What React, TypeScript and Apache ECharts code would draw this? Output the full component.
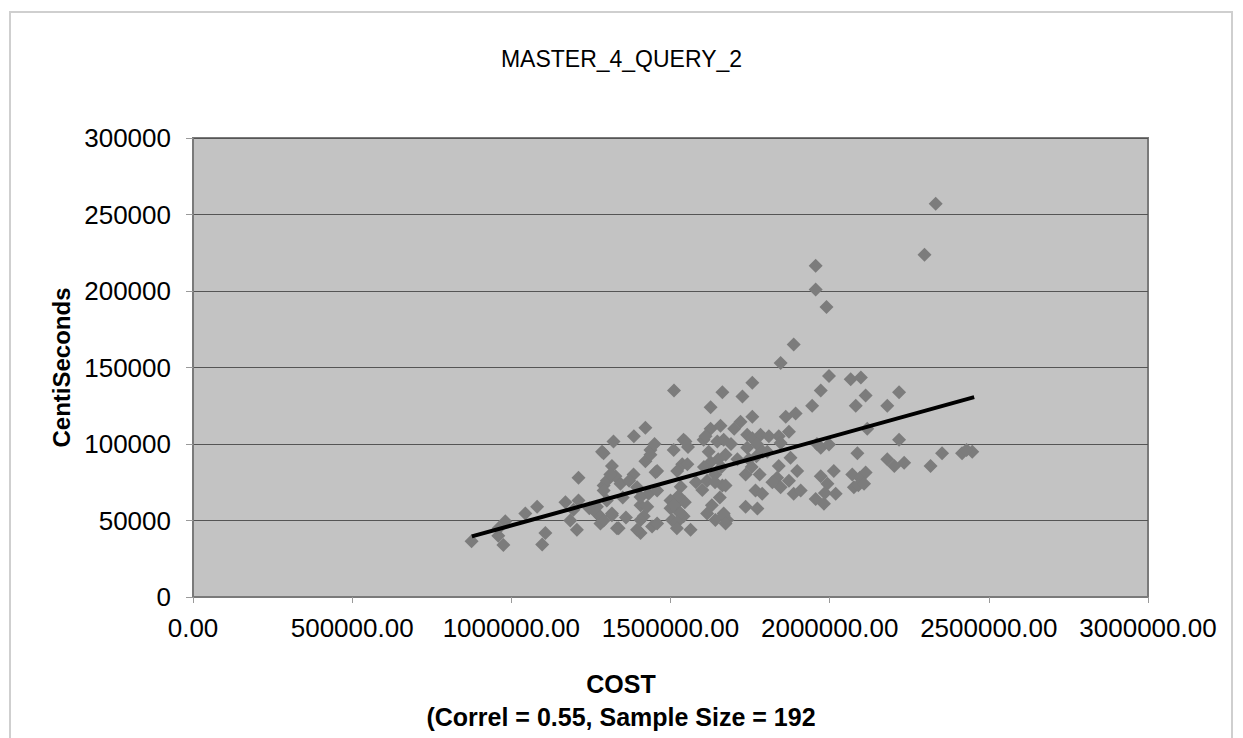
import React, { useEffect, useRef } from "react";
import * as echarts from "echarts";

const chartTitle = "MASTER_4_QUERY_2";
const xAxisTitleLine1 = "COST";
const xAxisTitleLine2 = "(Correl = 0.55, Sample Size = 192";
const yAxisTitle = "CentiSeconds";

// COST values (x)
const costValues: number[] = [
  875000, 959000, 975000, 981000, 960000, 1044000, 1081000, 1107000, 1097000, 1170000,
  1211000, 1185000, 1206000, 1211000, 1195000, 1269000, 1280000, 1290000, 1316000, 1332000,
  1285000, 1321000, 1316000, 1327000, 1343000, 1290000, 1300000, 1290000, 1300000, 1269000,
  1311000, 1280000, 1337000, 1316000, 1245000,
  1421000, 1385000, 1437000, 1421000, 1384000, 1453000, 1437000, 1458000, 1406000, 1416000,
  1406000, 1442000, 1431000, 1406000, 1395000, 1458000, 1427000, 1406000, 1458000, 1395000,
  1370000, 1360000,
  1511000, 1541000, 1510000, 1537000, 1521000, 1532000, 1500000, 1521000, 1505000, 1541000,
  1563000, 1515000, 1532000, 1521000, 1547000, 1553000, 1500000, 1545000, 1525000, 1555000,
  1580000,
  1663000, 1626000, 1626000, 1657000, 1604000, 1647000, 1673000, 1626000, 1615000, 1663000,
  1615000, 1641000, 1667000, 1678000, 1667000, 1673000, 1667000, 1673000, 1620000, 1640000,
  1650000, 1605000, 1630000, 1655000, 1690000, 1610000,
  1726000, 1720000, 1741000, 1741000, 1736000, 1736000, 1757000, 1757000, 1757000, 1783000,
  1773000, 1746000, 1767000, 1788000, 1773000, 1755000, 1770000, 1790000, 1710000,
  1887000, 1846000, 1862000, 1893000, 1872000, 1840000, 1804000, 1846000, 1877000, 1840000,
  1835000, 1846000, 1872000, 1898000, 1887000, 1809000, 1820000,
  1998000, 1972000, 1945000, 1972000, 1998000, 1972000, 1993000, 1956000, 1982000, 1909000,
  1956000, 1956000, 1990000, 1960000, 1985000,
  2066000, 2098000, 2082000, 2087000, 2013000, 2019000, 2071000, 2076000, 2095000, 2090000,
  2113000, 2118000, 2113000, 2108000, 2181000, 2218000, 2218000, 2181000, 2234000, 2203000,
  2298000, 2333000, 2317000, 2353000, 2416000, 2448000, 2430000,
  1290000, 1510000, 1520000, 1640000, 1660000, 1700000, 1780000, 1600000, 1450000, 1350000,
];

// CentiSeconds values (y)
const centiSeconds: number[] = [
  36400, 40000, 34000, 49500, 45000, 54600, 59000, 41800, 34300, 62000,
  78000, 50000, 44000, 63000, 57000, 54600, 48000, 72800, 54600, 45000,
  95000, 101700, 85600, 79000, 74000, 94000, 76000, 69600, 63000, 59000,
  80000, 52500, 45000, 53500, 58000,
  110700, 105000, 96000, 88800, 80000, 81500, 93000, 82400, 60000, 52700,
  41800, 46000, 67500, 50300, 44000, 48000, 59000, 65300, 69600, 71700,
  76000, 52000,
  135000, 102800, 96000, 86700, 82400, 72000, 63000, 56700, 50300, 52700,
  44000, 60000, 54600, 49000, 101700, 86700, 58000, 62000, 66000, 98000,
  75000,
  133800, 124000, 110000, 112000, 102800, 101700, 93000, 88000, 76000, 72800,
  54600, 50300, 54600, 50300, 102800, 72800, 53500, 48000, 95000, 80000,
  90000, 85000, 60000, 65000, 100000, 105000,
  131000, 114500, 106000, 97600, 80000, 59000, 140000, 117800, 103700, 106000,
  99600, 90000, 69600, 67500, 57800, 85000, 92000, 95000, 90000,
  165000, 153000, 117800, 120000, 108000, 105000, 95000, 100700, 91000, 85700,
  78000, 71700, 76000, 82400, 67500, 105000, 75000,
  144500, 135000, 125000, 97500, 99600, 79000, 74000, 64000, 61000, 69600,
  216500, 201000, 189500, 100000, 68000,
  142400, 143500, 125000, 94000, 82400, 67500, 80000, 71700, 78000, 73000,
  131700, 110000, 81400, 74000, 125000, 133800, 102800, 90000, 87800, 85600,
  223700, 257000, 85600, 94000, 94000, 95000, 96000,
  50000, 60000, 45000, 75000, 85000, 110000, 80000, 70000, 100000, 65000,
];

// Linear trend line endpoints
const trendX: number[] = [876000, 2454000];
const trendY: number[] = [39600, 130600];

const xTicks = { min: 0, max: 3000000, interval: 500000 };
const yTicks = { min: 0, max: 300000, interval: 50000 };

export default function App() {
  const ref = useRef<HTMLDivElement>(null);

  useEffect(() => {
    if (!ref.current) return;
    const chart = echarts.init(ref.current, undefined, { renderer: "svg" });
    const points = costValues.map((x, i) => [x, centiSeconds[i]]);
    const trend = trendX.map((x, i) => [x, trendY[i]]);
    const font = "Liberation Sans, Arial, Helvetica, sans-serif";

    chart.setOption({
      animation: false,
      backgroundColor: "#ffffff",
      title: {
        text: chartTitle,
        left: "center",
        top: 42,
        textStyle: {
          fontFamily: font,
          fontSize: 23,
          fontWeight: "normal",
          color: "#000000",
        },
      },
      graphic: [
        {
          type: "rect",
          shape: { x: 10, y: 12, width: 1222, height: 760 },
          style: { fill: "none", stroke: "#cfcfcf", lineWidth: 2 },
          silent: true,
        },
      ],
      grid: {
        left: 193,
        right: 95,
        top: 138,
        bottom: 133,
        show: true,
        backgroundColor: "#c3c3c3",
        borderColor: "#7a7a7a",
        borderWidth: 2,
      },
      xAxis: {
        type: "value",
        min: xTicks.min,
        max: xTicks.max,
        interval: xTicks.interval,
        name: xAxisTitleLine1 + "\n" + xAxisTitleLine2,
        nameLocation: "middle",
        nameGap: 70,
        nameTextStyle: {
          fontFamily: font,
          fontSize: 25,
          fontWeight: "bold",
          color: "#000000",
          lineHeight: 33,
          padding: [0, 99, 0, 0],
        },
        axisLine: { show: true, lineStyle: { color: "#7a7a7a", width: 2 } },
        axisTick: { show: true, length: 6, lineStyle: { color: "#9a9a9a" } },
        axisLabel: {
          fontFamily: font,
          fontSize: 26,
          color: "#000000",
          margin: 18,
          formatter: (v: number) => v.toFixed(2),
        },
        splitLine: { show: false },
      },
      yAxis: {
        type: "value",
        min: yTicks.min,
        max: yTicks.max,
        interval: yTicks.interval,
        name: yAxisTitle,
        nameLocation: "middle",
        nameGap: 119,
        nameTextStyle: {
          fontFamily: font,
          fontSize: 24,
          fontWeight: "bold",
          color: "#000000",
        },
        axisLine: { show: true, lineStyle: { color: "#7a7a7a", width: 2 } },
        axisTick: { show: true, length: 7, lineStyle: { color: "#9a9a9a" } },
        axisLabel: {
          fontFamily: font,
          fontSize: 26,
          color: "#000000",
          margin: 22,
          formatter: (v: number) => String(v),
        },
        splitLine: { show: true, lineStyle: { color: "#555555", width: 1 } },
      },
      series: [
        {
          type: "scatter",
          data: points,
          symbol: "diamond",
          symbolSize: 14,
          itemStyle: { color: "#7c7c7c", opacity: 1 },
          z: 2,
        },
        {
          type: "line",
          data: trend,
          showSymbol: false,
          symbol: "none",
          lineStyle: { color: "#000000", width: 4 },
          z: 3,
        },
      ],
    });

    return () => chart.dispose();
  }, []);

  return (
    <div
      ref={ref}
      style={{ position: "fixed", left: 0, top: 0, width: 1243, height: 738 }}
    />
  );
}
